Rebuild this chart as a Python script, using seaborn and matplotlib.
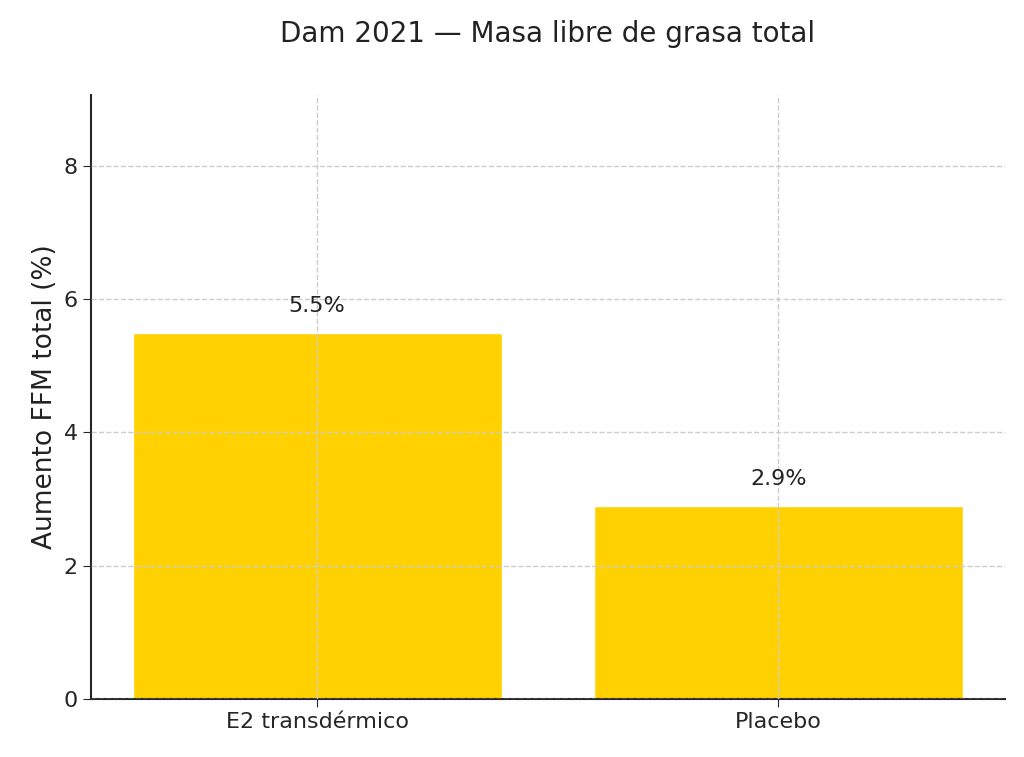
import matplotlib
matplotlib.use("Agg")
import matplotlib.pyplot as plt
import seaborn as sns

groups = ["E2 transdérmico", "Placebo"]
ffm_gain = [5.5, 2.9]
labels = ["5.5%", "2.9%"]

sns.set_style("ticks")
plt.rcParams['font.family'] = ['DejaVu Sans']

fig, ax = plt.subplots(figsize=(10.24, 7.57), dpi=100)
sns.barplot(x=groups, y=ffm_gain, color="#FFD100", saturation=1, width=0.8, ax=ax)
ax.set_xlim(-0.49, 1.49)
ax.set_ylim(0, 5.5 * 1.65)
ax.set_yticks([0, 2, 4, 6, 8])
ax.grid(True, linestyle="--", color="#cccccc", linewidth=1)
ax.set_axisbelow(False)
for i, (v, t) in enumerate(zip(ffm_gain, labels)):
    ax.text(i, v + 0.25, t, ha="center", va="bottom", fontsize=16, color="#222222")
ax.set_title("Dam 2021 — Masa libre de grasa total", fontsize=20, pad=38, color="#222222")
ax.set_ylabel("Aumento FFM total (%)", fontsize=19, color="#222222")
ax.tick_params(labelsize=16, length=6)
sns.despine(ax=ax)
ax.spines["left"].set_linewidth(1.5)
ax.spines["bottom"].set_linewidth(1.5)
fig.subplots_adjust(left=0.089, right=0.981, bottom=0.077, top=0.875)
fig.savefig("out.png", dpi=100)
